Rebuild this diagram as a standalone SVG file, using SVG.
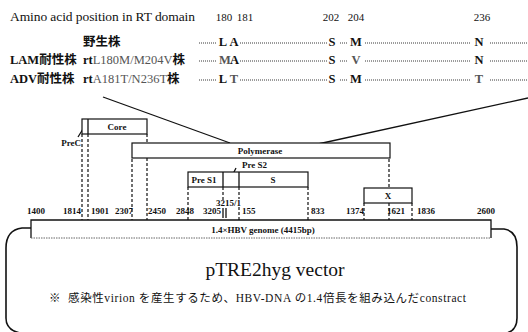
<svg xmlns="http://www.w3.org/2000/svg" width="528" height="332" viewBox="0 0 528 332" font-family="'Liberation Serif','Noto Sans CJK JP',serif">
<style>
text{font-family:'Liberation Serif','Noto Sans CJK JP',serif;fill:#111}
.hd{font-size:13.5px}
.num{font-size:11px}
.lab{font-size:12.5px;font-weight:bold}
.mut{font-weight:normal;fill:#555}
.res{font-size:12.5px;font-weight:bold;text-anchor:middle}
.dot{stroke:#222;stroke-width:0.9;stroke-dasharray:1 1;fill:none}
.box{fill:#fff;stroke:#111;stroke-width:1.2}
.bl{font-size:9px;font-weight:bold;text-anchor:middle}
.pn{font-size:9px;font-weight:bold}
.dash{stroke:#111;stroke-width:1.2;stroke-dasharray:3 2;fill:none}
.ln{stroke:#111;stroke-width:1.3;fill:none}
.vec{stroke:#111;stroke-width:1.6;fill:none}
</style>

<g id="table">
<text class="hd" x="10" y="21" textLength="185" lengthAdjust="spacing">Amino acid position in RT domain</text>
<g class="num" text-anchor="middle">
<text x="224" y="21">180</text>
<text x="245" y="21">181</text>
<text x="331" y="21">202</text>
<text x="356" y="21">204</text>
<text x="482" y="21">236</text>
</g>
<text class="lab" x="83" y="46">野生株</text>
<text class="lab" x="10" y="64">LAM耐性株</text>
<text class="lab" x="83" y="64">rt<tspan class="mut">L180M/M204V</tspan>株</text>
<text class="lab" x="10" y="83">ADV耐性株</text>
<text class="lab" x="83" y="83">rt<tspan class="mut">A181T/N236T</tspan>株</text>

<path class="dot" d="M199,43H216M240,43H327M340,43H348M365,43H471M490,43H527"/>
<path class="dot" d="M199,61H216M240,61H327M340,61H348M365,61H471M490,61H527"/>
<path class="dot" d="M199,80H216M240,80H327M340,80H348M365,80H471M490,80H527"/>

<text class="res" x="223" y="46">L</text><text class="res" x="234" y="46">A</text>
<text class="res" x="332" y="46">S</text><text class="res" x="356" y="46">M</text><text class="res" x="479" y="46">N</text>

<text class="res mut" x="225" y="64">M</text><text class="res" x="234.5" y="64">A</text>
<text class="res" x="332" y="64">S</text><text class="res mut" x="356" y="64">V</text><text class="res" x="479" y="64">N</text>

<text class="res" x="223" y="83">L</text><text class="res mut" x="234" y="83">T</text>
<text class="res" x="332" y="83">S</text><text class="res" x="356" y="83">M</text><text class="res mut" x="479" y="83">T</text>
</g>

<g id="connectors">
<line class="ln" x1="103" y1="97" x2="230" y2="143"/>
<line class="ln" x1="528" y1="98" x2="318" y2="144"/>
<path class="dash" d="M82,134V220M88,134V220M132,159V220M147,134V143M147,158V220M188,187V220M223,187V201M239,187V199M239,207V220M308,187V220M364,203V220M389,159V188M389,203V220M412,203V220"/>
<path class="ln" d="M223,208V218M226,208V218" stroke-width="0.8"/>
<path class="ln" d="M78,137L83,129M231,178L236,168" stroke-width="1"/>
</g>

<g id="core">
<rect class="box" x="82" y="119" width="65" height="15"/>
<line class="ln" x1="88" y1="119" x2="88" y2="134" stroke-width="1.2"/>
<text class="bl" x="117" y="130">Core</text>
</g>
<g id="prec">
<text class="pn" x="81" y="146" text-anchor="end">PreC</text>
</g>
<g id="polymerase">
<rect class="box" x="132" y="143" width="258" height="15"/>
<text class="bl" x="260" y="154">Polymerase</text>
</g>
<g id="preS">
<rect class="box" x="188" y="172" width="120" height="15"/>
<line class="ln" x1="223" y1="172" x2="223" y2="187" stroke-width="1.2"/>
<line class="ln" x1="239" y1="172" x2="239" y2="187" stroke-width="1.2"/>
<text class="bl" x="204" y="183">Pre S1</text>
<text class="bl" x="273" y="183" font-size="10">S</text>
<text class="pn" x="242" y="168">Pre S2</text>
</g>
<g id="x">
<rect class="box" x="364" y="188" width="48" height="15"/>
<text class="bl" x="388" y="199">X</text>
</g>

<g id="positions" class="pn">
<text x="27" y="214">1400</text>
<text x="63" y="214">1814</text>
<text x="91" y="214">1901</text>
<text x="115" y="214">2307</text>
<text x="148" y="214">2450</text>
<text x="176" y="214">2848</text>
<text x="203" y="214">3205</text>
<text x="216" y="206">3215/1</text>
<text x="242" y="214">155</text>
<text x="311" y="214">833</text>
<text x="346" y="214">1374</text>
<text x="387" y="214">1621</text>
<text x="417" y="214">1836</text>
<text x="477" y="214">2600</text>
</g>

<g id="genome">
<path class="ln" d="M31,238V220H491V238" stroke-width="1.3"/>
<line x1="31" y1="238" x2="491" y2="238" stroke="#666" stroke-width="1" stroke-dasharray="1.5 1"/>
<text x="263" y="233" font-size="9px" font-weight="bold" text-anchor="middle">1.4×HBV genome (4415bp)</text>
</g>

<g id="vector">
<path class="vec" d="M31,228H22Q6,230 6,248V318Q6,330 20,333"/>
<path class="vec" d="M491,229H504Q517,231 517,247V318Q517,330 507,333"/>
<text x="275" y="276" font-size="19.5px" text-anchor="middle">pTRE2hyg vector</text>
<text x="49" y="302" font-size="11.5px" fill="#222" textLength="417" lengthAdjust="spacing">※&#160;&#160;感染性virion を産生するため、HBV-DNA の1.4倍長を組み込んだconstract</text>
</g>
</svg>
